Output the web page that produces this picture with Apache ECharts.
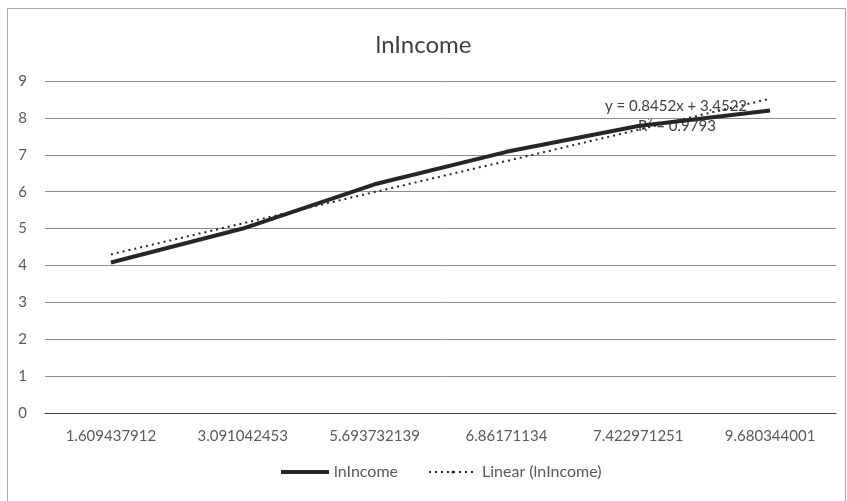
<!DOCTYPE html>
<html>
<head>
<meta charset="utf-8">
<script src="https://cdn.jsdelivr.net/npm/echarts@6/dist/echarts.min.js"></script>
<style>
  html, body { margin: 0; padding: 0; background: #fff; }
  #chart { width: 847px; height: 501px; }
</style>
</head>
<body>
<div id="chart"></div>
<script>
// x categories (ln of something, shown as text labels)
const categories = ['1.609437912', '3.091042453', '5.693732139', '6.86171134', '7.422971251', '9.680344001']
// lnIncome values
const lnIncome = [4.08, 5.0, 6.2, 7.08, 7.78, 8.2]
// Excel linear trendline, y = 0.8452x + 3.4522 at x = 1..6
const trendLine = [4.30, 5.14, 5.99, 6.83, 7.68, 8.52]
const yTicks = [0, 1, 2, 3, 4, 5, 6, 7, 8, 9]

const font = 'Lato, "Open Sans", sans-serif'
const chart = echarts.init(document.getElementById('chart'))

chart.setOption({
  animation: false,
  backgroundColor: '#fff',
  title: {
    text: 'lnIncome',
    left: 'center',
    top: 28,
    textStyle: { fontFamily: font, fontSize: 24, fontWeight: 'normal', color: '#404040' }
  },
  grid: { left: 45, right: 11, top: 81, bottom: 88 },
  legend: {
    bottom: 16,
    left: 276,
    itemWidth: 48,
    itemHeight: 4,
    itemGap: 30,
    textStyle: { fontFamily: font, fontSize: 16, color: '#595959' },
    data: [
      { name: 'lnIncome', icon: 'path://M0,0H48V4H0Z', itemStyle: { color: '#262626' } },
      { name: 'Linear (lnIncome)' }
    ]
  },
  xAxis: {
    type: 'category',
    data: categories,
    axisLine: { lineStyle: { color: '#404040', width: 1 } },
    axisTick: { show: false },
    axisLabel: { fontFamily: font, fontSize: 15, color: '#595959', margin: 16 }
  },
  yAxis: {
    type: 'value',
    min: yTicks[0],
    max: yTicks[yTicks.length - 1],
    interval: 1,
    axisLine: { show: false },
    axisTick: { show: false },
    axisLabel: { fontFamily: font, fontSize: 15, color: '#595959', margin: 18 },
    splitLine: { lineStyle: { color: '#8c8c8c', width: 1 } }
  },
  series: [
    {
      name: 'lnIncome',
      type: 'line',
      data: lnIncome,
      symbol: 'none',
      lineStyle: { color: '#262626', width: 4 },
      itemStyle: { color: '#262626' },
      z: 3
    },
    {
      name: 'Linear (lnIncome)',
      type: 'line',
      data: trendLine,
      symbol: 'none',
      lineStyle: { color: '#262626', width: 2, type: [2, 4] },
      itemStyle: { color: '#262626' },
      z: 2
    }
  ],
  graphic: [
    {
      type: 'rect',
      shape: { x: 7.5, y: 8.5, width: 838, height: 510 },
      style: { fill: 'none', stroke: '#a6a6a6', lineWidth: 1 },
      silent: true
    },
    {
      type: 'text',
      left: 605,
      top: 99,
      style: { text: 'y = 0.8452x + 3.4522', fontFamily: font, fontSize: 15, fill: '#404040' }
    },
    {
      type: 'text',
      left: 638,
      top: 119,
      style: { text: 'R² = 0.9793', fontFamily: font, fontSize: 15, fill: '#404040' }
    }
  ]
})
</script>
</body>
</html>
